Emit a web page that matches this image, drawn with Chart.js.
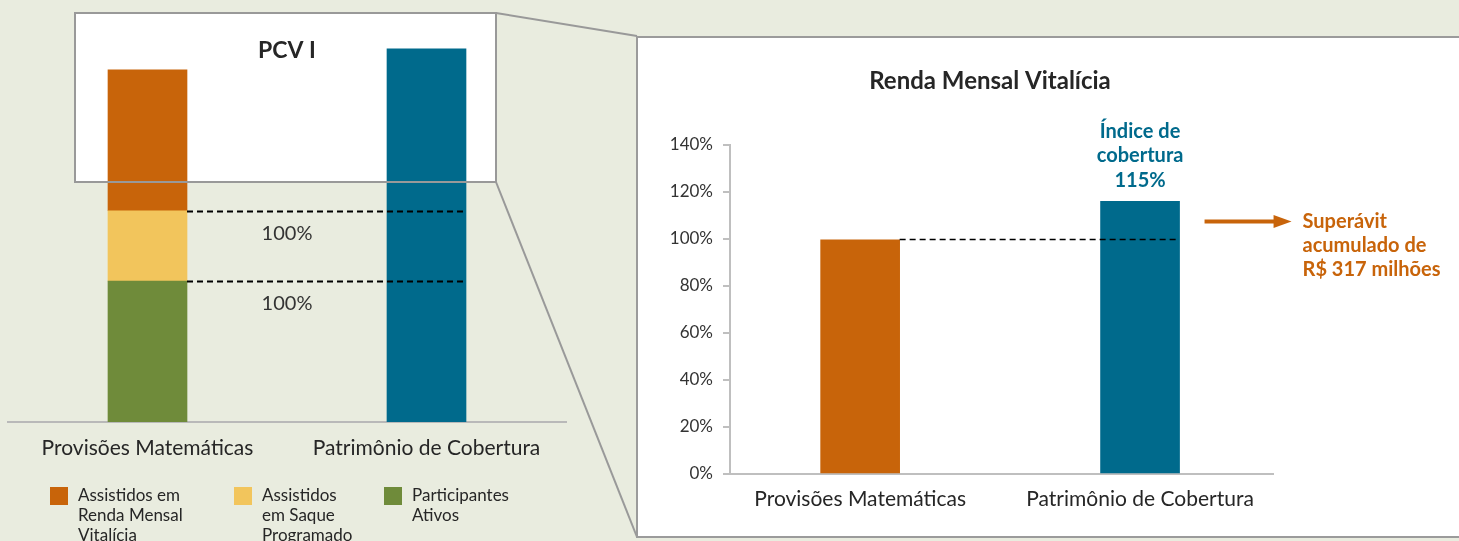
<!DOCTYPE html>
<html><head><meta charset="utf-8">
<script src="https://cdn.jsdelivr.net/npm/chart.js@4/dist/chart.umd.min.js"></script>
<style>
html,body{margin:0;padding:0;background:#e9ecdf;width:1459px;height:541px;overflow:hidden;font-family:Lato,sans-serif;}
#svg{position:absolute;left:0;top:0;}
#left{position:absolute;left:0;top:0;}
#right{position:absolute;left:640px;top:40px;}
.leg{position:absolute;top:485px;font-size:17px;font-family:Lato,sans-serif;color:#262626;line-height:20px;}
.sw{position:absolute;width:18px;height:18px;top:487px;}
</style></head>
<body>
<svg id="svg" width="1459" height="541">
  <line x1="496" y1="13" x2="637" y2="36" stroke="#999" stroke-width="2"/>
  <line x1="496" y1="182" x2="637" y2="537" stroke="#999" stroke-width="2"/>
  <rect x="637" y="37" width="840" height="500" fill="#fff" stroke="#9b9b9b" stroke-width="2"/>
</svg>
<canvas id="left" width="600" height="541"></canvas>
<canvas id="right" width="819" height="496"></canvas>
<div id="legend"></div>
<script>
// ---------- data ----------
const categories = ['Provisões Matemáticas', 'Patrimônio de Cobertura'];
// left chart (PCV I), values relative to total Provisões Matemáticas (=100)
const leftAtivos = [40, null];      // Participantes Ativos
const leftSaque = [20, null];       // Assistidos em Saque Programado
const leftRenda = [40, null];       // Assistidos em Renda Mensal Vitalícia
const leftPatrimonio = [null, 106]; // Patrimônio de Cobertura
const leftCoverageLabels = ['100%', '100%'];
const leftTitle = 'PCV I';
const legendNames = ['Assistidos em\nRenda Mensal\nVitalícia', 'Assistidos\nem Saque\nProgramado', 'Participantes\nAtivos'];
// right chart (Renda Mensal Vitalícia)
const rightTitle = 'Renda Mensal Vitalícia';
const rightValues = [99.6, 116];
const rightTicks = [0, 20, 40, 60, 80, 100, 120, 140];
const coverageNote = ['Índice de', 'cobertura', '115%'];
const surplusNote = ['Superávit', 'acumulado de', 'R$ 317 milhões'];

const ORANGE = '#c8640a', YELLOW = '#f2c55c', GREEN = '#6f8b3a', TEAL = '#006a8c';
const TXT = '#262626', AXIS = '#bfbfbf';
const FONT = 'Lato, sans-serif';

// ---------- legend ----------
const legColors = [ORANGE, YELLOW, GREEN];
const legX = [50, 234, 384];
const legDiv = document.getElementById('legend');
legendNames.forEach((n, i) => {
  const sw = document.createElement('div');
  sw.className = 'sw'; sw.style.left = legX[i] + 'px'; sw.style.background = legColors[i];
  legDiv.appendChild(sw);
  const t = document.createElement('div');
  t.className = 'leg'; t.style.left = (legX[i] + 28) + 'px';
  t.innerHTML = n.split('\n').join('<br>');
  legDiv.appendChild(t);
});

// ---------- left chart ----------
const leftPlugin = {
  id: 'leftDeco',
  beforeDatasetsDraw(chart) {
    const c = chart.ctx;
    c.save(); c.fillStyle = '#fff'; c.fillRect(75, 13, 421, 169); c.restore();
  },
  afterDatasetsDraw(chart) {
    const c = chart.ctx, y = chart.scales.y;
    const b1 = chart.getDatasetMeta(0).data[0];
    const b2 = chart.getDatasetMeta(3).data[1];
    const x1 = b1.x + b1.width / 2, x2 = b2.x + b2.width / 2;
    const midX = (x1 + (b2.x - b2.width / 2)) / 2;
    c.save();
    c.strokeStyle = '#999'; c.lineWidth = 2; c.strokeRect(75, 13, 421, 169);
    c.strokeStyle = '#000'; c.lineWidth = 1.8; c.setLineDash([6, 4]);
    const levels = [leftAtivos[0] + leftSaque[0], leftAtivos[0]];
    levels.forEach((v, i) => {
      const py = Math.round(y.getPixelForValue(v)) + 0.5;
      c.beginPath(); c.moveTo(x1, py); c.lineTo(x2, py); c.stroke();
      c.fillStyle = '#333'; c.font = '20px ' + FONT; c.textAlign = 'center'; c.textBaseline = 'middle';
      c.fillText(leftCoverageLabels[i], midX, py + 22);
    });
    c.setLineDash([]);
    c.fillStyle = TXT; c.font = 'bold 23px ' + FONT; c.textAlign = 'center'; c.textBaseline = 'middle';
    c.fillText(leftTitle, midX, 51);
    c.restore();
  }
};

new Chart(document.getElementById('left'), {
  type: 'bar',
  data: {
    labels: categories,
    datasets: [
      { label: 'Participantes Ativos', data: leftAtivos, backgroundColor: GREEN },
      { label: 'Assistidos em Saque Programado', data: leftSaque, backgroundColor: YELLOW },
      { label: 'Assistidos em Renda Mensal Vitalícia', data: leftRenda, backgroundColor: ORANGE },
      { label: 'Patrimônio de Cobertura', data: leftPatrimonio, backgroundColor: TEAL }
    ]
  },
  options: {
    responsive: false, animation: false, devicePixelRatio: 1,
    layout: { padding: { left: 8, right: 34, top: 22, bottom: 0 } },
    plugins: { legend: { display: false }, tooltip: { enabled: false } },
    datasets: { bar: { barThickness: 79 } },
    scales: {
      x: {
        stacked: true,
        grid: { display: false, drawTicks: false },
        border: { display: true, color: '#b9b9b9', width: 2 },
        ticks: { color: TXT, font: { family: FONT, size: 21 }, padding: 14, maxRotation: 0 },
        afterFit(s) { s.height = 119; }
      },
      y: { stacked: true, display: false, min: 0, max: 113.6 }
    }
  },
  plugins: [leftPlugin]
});

// ---------- right chart ----------
const rightPlugin = {
  id: 'rightDeco',
  afterDatasetsDraw(chart) {
    const c = chart.ctx, y = chart.scales.y;
    const m = chart.getDatasetMeta(0);
    const b1 = m.data[0], b2 = m.data[1];
    const x1 = b1.x + b1.width / 2, x2 = b2.x + b2.width / 2;
    c.save();
    const py = Math.round(y.getPixelForValue(100)) + 0.5;
    c.strokeStyle = '#000'; c.lineWidth = 1.5; c.setLineDash([6, 4]);
    c.beginPath(); c.moveTo(x1, py); c.lineTo(x2, py); c.stroke();
    c.setLineDash([]);
    c.fillStyle = TXT; c.font = 'bold 24px ' + FONT; c.textAlign = 'center'; c.textBaseline = 'middle';
    c.fillText(rightTitle, 350, 41);
    c.fillStyle = TEAL; c.font = 'bold 20px ' + FONT;
    coverageNote.forEach((t, i) => c.fillText(t, b2.x, b2.y - 70 + i * 24.5));
    const ay = b2.y + 20;
    c.strokeStyle = ORANGE; c.fillStyle = ORANGE; c.lineWidth = 4;
    c.beginPath(); c.moveTo(x2 + 25, ay); c.lineTo(x2 + 97, ay); c.stroke();
    c.beginPath(); c.moveTo(x2 + 94, ay - 6.5); c.lineTo(x2 + 112, ay); c.lineTo(x2 + 94, ay + 6.5); c.closePath(); c.fill();
    c.textAlign = 'left';
    surplusNote.forEach((t, i) => c.fillText(t, x2 + 123, ay + i * 24));
    c.restore();
  }
};

new Chart(document.getElementById('right'), {
  type: 'bar',
  data: {
    datasets: [{
      label: rightTitle,
      data: rightValues.map((v, i) => ({ x: i, y: v })),
      backgroundColor: [ORANGE, TEAL], barThickness: 79
    }]
  },
  options: {
    responsive: false, animation: false, devicePixelRatio: 1,
    layout: { padding: { left: 0, right: 186, top: 105, bottom: 0 } },
    plugins: { legend: { display: false }, tooltip: { enabled: false } },
    scales: {
      x: {
        type: 'linear', min: -0.465, max: 1.475, offset: false,
        afterBuildTicks(s) { s.ticks = categories.map((_, i) => ({ value: i })); },
        grid: { display: false, drawTicks: false, offset: false },
        border: { display: true, color: AXIS, width: 2 },
        ticks: { color: TXT, font: { family: FONT, size: 21 }, padding: 13, maxRotation: 0, autoSkip: false,
                 callback: v => categories[v] },
        afterFit(s) { s.height = 62; }
      },
      y: {
        min: 0, max: 140,
        afterBuildTicks(s) { s.ticks = rightTicks.map(v => ({ value: v })); },
        grid: { display: true, drawOnChartArea: false, drawTicks: true, tickLength: 7, color: AXIS, lineWidth: 2 },
        border: { display: true, color: AXIS, width: 2 },
        ticks: { color: '#333', font: { family: FONT, size: 17 }, padding: 10, callback: v => v + '%' },
        afterFit(s) { s.width = 90; }
      }
    }
  },
  plugins: [rightPlugin]
});
</script>
</body></html>
